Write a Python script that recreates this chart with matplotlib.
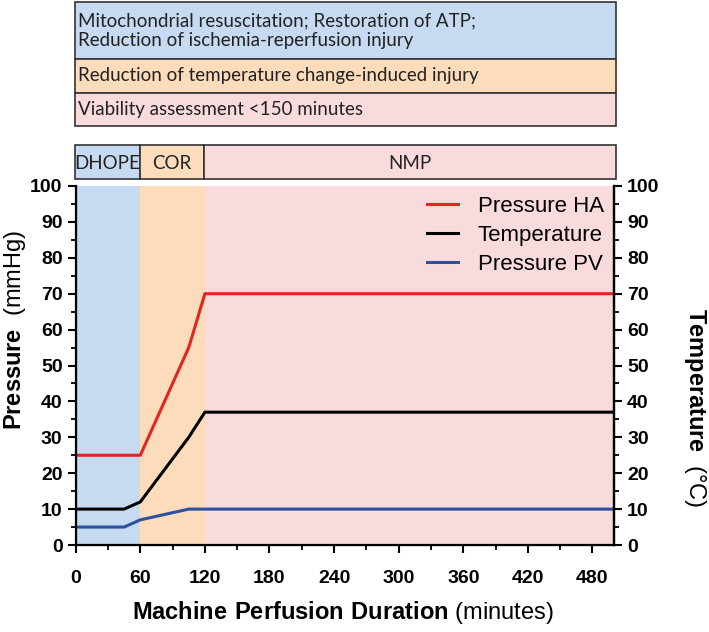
import matplotlib
matplotlib.use("Agg")
import matplotlib.pyplot as plt
from matplotlib.patches import Rectangle

# phases (minutes)
phase_names = ["DHOPE", "COR", "NMP"]
phase_edges = [0, 60, 120, 500]
phase_colors = ["#c6daf1", "#fcdcbb", "#f9dbde"]

goals = ["Mitochondrial resuscitation; Restoration of ATP;\nReduction of ischemia-reperfusion injury",
         "Reduction of temperature change-induced injury",
         "Viability assessment <150 minutes"]

# series
ha_t = [0, 60, 105, 120, 500]
ha_v = [25, 25, 55, 70, 70]
temp_t = [0, 45, 60, 105, 120, 500]
temp_v = [10, 10, 12, 30, 37, 37]
pv_t = [0, 45, 60, 105, 500]
pv_v = [5, 5, 7, 10, 10]

xticks = [0, 60, 120, 180, 240, 300, 360, 420, 480]
yticks = list(range(0, 101, 10))

W, H = 709, 632
plt.rcParams["font.family"] = ["Liberation Sans", "DejaVu Sans"]
plt.rcParams["mathtext.fontset"] = "custom"
plt.rcParams["mathtext.bf"] = "Liberation Sans:bold"
plt.rcParams["mathtext.rm"] = "Liberation Sans"

fig = plt.figure(figsize=(W / 100, H / 100), dpi=100)

def fbox(x0, y0, x1, y1):
    # pixel box (top-left origin) -> figure fraction rect
    return [x0 / W, 1 - y1 / H, (x1 - x0) / W, (y1 - y0) / H]

# goals panel
gx = fig.add_axes(fbox(75, 2, 616, 126))
gx.set_xlim(0, 1); gx.set_ylim(0, 124); gx.axis("off")
rows = [(67, 124), (33, 67), (0, 33)]
for (y0, y1), txt, c in zip(rows, goals, phase_colors):
    gx.add_patch(Rectangle((0, y0), 1, y1 - y0, facecolor=c, edgecolor="#333333", lw=1.2, clip_on=False))
    gx.text(0.006, (y0 + y1) / 2, txt, va="center", ha="left", fontsize=13.5,
            family="Lato", color="#222222", linespacing=1.2)

# phase bar
px = fig.add_axes(fbox(75, 145, 616, 179))
px.set_xlim(0, 503); px.set_ylim(0, 1); px.axis("off")
for name, a, b, c in zip(phase_names, phase_edges[:-1], phase_edges[1:], phase_colors):
    b2 = 503 if b == phase_edges[-1] else b
    px.add_patch(Rectangle((a, 0), b2 - a, 1, facecolor=c, edgecolor="#333333", lw=1.2, clip_on=False))
    px.text((a + b2) / 2, 0.47, name, ha="center", va="center", fontsize=13.5,
            family="Lato", color="#222222")

# main plot
ax = fig.add_axes(fbox(75.7, 186, 614, 545))
for a, b, c in zip(phase_edges[:-1], phase_edges[1:], phase_colors):
    ax.axvspan(a, b, color=c, lw=0, zorder=0)
ax.plot(ha_t, ha_v, color="#e2261f", lw=2.2, label="Pressure HA")
ax.plot(temp_t, temp_v, color="black", lw=2.2, label="Temperature")
ax.plot(pv_t, pv_v, color="#2c4f9e", lw=2.2, label="Pressure PV")
ax.set_xlim(0, 500)
ax.set_ylim(0, 100)
ax.set_xticks(xticks)
ax.set_xticks(range(30, 500, 60), minor=True)
ax.set_yticks(yticks)
ax.set_yticks(range(5, 100, 10), minor=True)
ax.spines["top"].set_visible(False)
for s in ("left", "bottom", "right"):
    ax.spines[s].set_linewidth(1.6)
ax.tick_params(which="major", length=6, width=1.5, labelsize=14)
ax.tick_params(which="minor", length=3.5, width=1.3)
ax.tick_params(axis="x", pad=12)
for lab in ax.get_xticklabels() + ax.get_yticklabels():
    lab.set_fontweight("bold")

ax2 = ax.twinx()
ax2.set_ylim(0, 100)
ax2.set_yticks(yticks)
ax2.set_yticks(range(5, 100, 10), minor=True)
ax2.spines["top"].set_visible(False)
ax2.spines["right"].set_linewidth(1.6)
ax2.tick_params(which="major", length=6, width=1.5, labelsize=14)
ax2.tick_params(which="minor", length=3.5, width=1.3)
for lab in ax2.get_yticklabels():
    lab.set_fontweight("bold")

ax.legend(loc="upper right", frameon=False, handlelength=1.4,
          handletextpad=0.9, borderaxespad=0.05, labelspacing=0.35,
          prop={"family": "Liberation Sans", "size": 16})

fig.text(15 / W, 1 - 330 / H, r"$\bf{Pressure}$  (mmHg)", fontsize=17,
         rotation=90, ha="center", va="center")
fig.text(695 / W, 1 - 408 / H, r"$\bf{Temperature}$  ($\degree$C)", fontsize=17,
         rotation=270, ha="center", va="center")
fig.text(343 / W, 1 - 612 / H, r"$\bf{Machine\ Perfusion\ Duration}$ (minutes)",
         fontsize=17, ha="center", va="center")

fig.savefig("out.png", dpi=100)
